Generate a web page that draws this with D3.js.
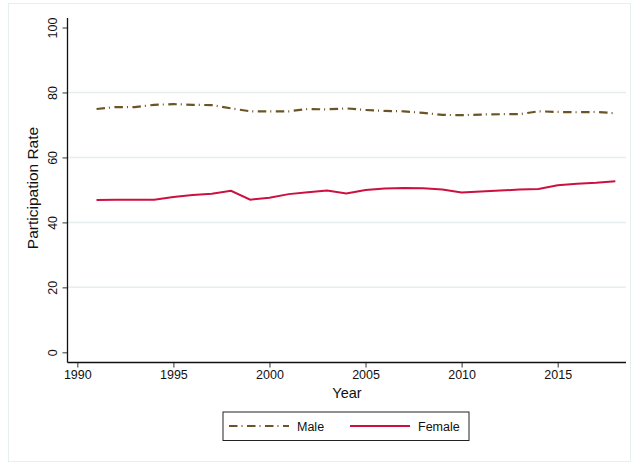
<!DOCTYPE html>
<html>
<head>
<meta charset="utf-8">
<script src="https://cdn.jsdelivr.net/npm/d3@7"></script>
<style>
  html, body { margin: 0; padding: 0; background: #fff; }
  svg { display: block; font-family: "Liberation Sans", Arial, sans-serif; }
</style>
</head>
<body>
<svg id="chart" width="633" height="464"></svg>
<script>
// Labour force participation rate by sex, 1991-2018
const years = d3.range(1991, 2019);
const male = [74.9, 75.5, 75.5, 76.2, 76.4, 76.2, 76.1, 75.1, 74.2, 74.2,
              74.2, 74.9, 74.8, 75.1, 74.6, 74.3, 74.2, 73.7, 73.1, 73.0,
              73.2, 73.3, 73.3, 74.2, 74.0, 73.9, 74.0, 73.6];
const female = [46.9, 47.0, 47.0, 47.0, 47.8, 48.4, 48.8, 49.7, 47.0, 47.6,
                48.7, 49.3, 49.8, 48.9, 50.0, 50.4, 50.6, 50.5, 50.1, 49.2,
                49.5, 49.8, 50.1, 50.3, 51.4, 51.9, 52.2, 52.7];
const xTicks = [1990, 1995, 2000, 2005, 2010, 2015];
const yTicks = [0, 20, 40, 60, 80, 100];
const seriesNames = ["Male", "Female"];

const svg = d3.select("#chart");

// outer frame
svg.append("rect")
  .attr("x", 8.5).attr("y", 3.5).attr("width", 622).attr("height", 458)
  .attr("fill", "#fff").attr("stroke", "#e8eff0").attr("stroke-width", 1);

const x = d3.scaleLinear().domain([1990, 2015]).range([77.3, 557.7]);
const y = d3.scaleLinear().domain([0, 100]).range([352.3, 27.5]);

const axisLeftX = 67.5, axisBottomY = 362.5, plotRight = 626, plotTop = 18;

// horizontal grid lines at interior ticks
svg.append("g").selectAll("line")
  .data(yTicks.filter(v => v > 0 && v < 100))
  .join("line")
  .attr("x1", axisLeftX).attr("x2", plotRight)
  .attr("y1", d => y(d)).attr("y2", d => y(d))
  .attr("stroke", "#e6eeef").attr("stroke-width", 1.5);

// y axis
const yAxis = svg.append("g")
  .attr("transform", `translate(${axisLeftX},0)`)
  .call(d3.axisLeft(y).tickValues(yTicks).tickSize(5).tickPadding(0).tickFormat(d3.format("d")));
yAxis.select(".domain").remove();
yAxis.selectAll(".tick line").attr("stroke", "#555").attr("stroke-width", 1.2);
yAxis.selectAll(".tick text")
  .attr("transform", "rotate(-90)")
  .attr("x", 0).attr("y", -11)
  .attr("dy", 0)
  .attr("text-anchor", "middle")
  .attr("font-size", 12.5).attr("fill", "#111")
  .attr("font-family", "Liberation Sans, Arial, sans-serif");
svg.append("line")
  .attr("x1", axisLeftX).attr("x2", axisLeftX)
  .attr("y1", plotTop).attr("y2", axisBottomY)
  .attr("stroke", "#111").attr("stroke-width", 1.3);

// x axis
const xAxis = svg.append("g")
  .attr("transform", `translate(0,${axisBottomY})`)
  .call(d3.axisBottom(x).tickValues(xTicks).tickSize(5).tickPadding(3).tickFormat(d3.format("d")));
xAxis.select(".domain").remove();
xAxis.selectAll(".tick line").attr("stroke", "#555").attr("stroke-width", 1.2);
xAxis.selectAll(".tick text")
  .attr("font-size", 12.5).attr("fill", "#111")
  .attr("font-family", "Liberation Sans, Arial, sans-serif");
svg.append("line")
  .attr("x1", axisLeftX).attr("x2", plotRight)
  .attr("y1", axisBottomY).attr("y2", axisBottomY)
  .attr("stroke", "#111").attr("stroke-width", 1.3);

// axis titles
svg.append("text")
  .attr("transform", `translate(38,188) rotate(-90)`)
  .attr("text-anchor", "middle")
  .attr("font-size", 15.5).attr("fill", "#111")
  .text("Participation Rate");
svg.append("text")
  .attr("x", 347).attr("y", 398)
  .attr("text-anchor", "middle")
  .attr("font-size", 14.5).attr("fill", "#111")
  .text("Year");

// series lines
const maleColor = "#6b5526", femaleColor = "#cc1040";
const line = d3.line().x((d, i) => x(years[i])).y(d => y(d));

svg.append("path").datum(male)
  .attr("d", line).attr("fill", "none")
  .attr("stroke", maleColor).attr("stroke-width", 2.2)
  .attr("stroke-dasharray", "8.5,4,1,4.5");
svg.append("path").datum(female)
  .attr("d", line).attr("fill", "none")
  .attr("stroke", femaleColor).attr("stroke-width", 2);

// legend
const lg = svg.append("g");
lg.append("rect")
  .attr("x", 223).attr("y", 412).attr("width", 246).attr("height", 28.5)
  .attr("fill", "#fff").attr("stroke", "#222").attr("stroke-width", 1);
const legendItems = [
  { name: seriesNames[0], color: maleColor, dash: "8.5,4,1,4.5", width: 2.2, x0: 229, x1: 289, tx: 297 },
  { name: seriesNames[1], color: femaleColor, dash: null, width: 2, x0: 350, x1: 410, tx: 418 }
];
legendItems.forEach(it => {
  lg.append("line")
    .attr("x1", it.x0).attr("x2", it.x1).attr("y1", 426).attr("y2", 426)
    .attr("stroke", it.color).attr("stroke-width", it.width)
    .attr("stroke-dasharray", it.dash);
  lg.append("text")
    .attr("x", it.tx).attr("y", 430.5)
    .attr("font-size", 12.5).attr("fill", "#111")
    .text(it.name);
});
</script>
</body>
</html>
